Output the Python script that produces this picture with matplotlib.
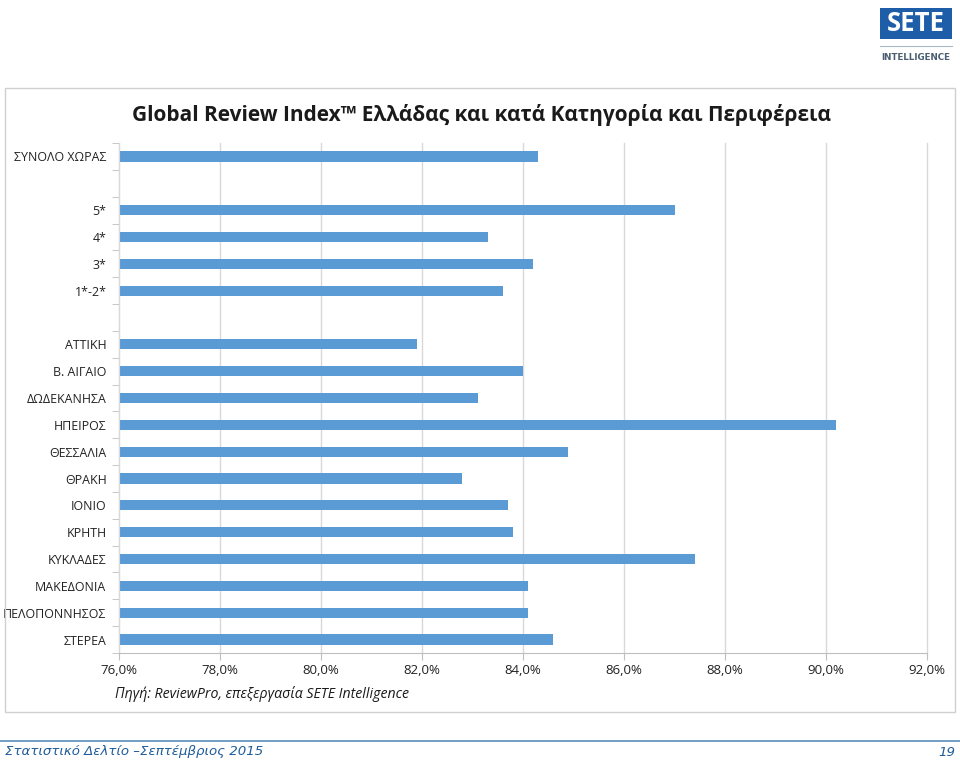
import matplotlib
matplotlib.use("Agg")
import matplotlib.pyplot as plt
from matplotlib.patches import Rectangle
from matplotlib.ticker import FuncFormatter, FixedLocator

plt.rcParams['font.family'] = ['Open Sans', 'DejaVu Sans']

# κατηγορίες (κενές γραμμές = διαχωριστικά)
labels = ['ΣΥΝΟΛΟ ΧΩΡΑΣ', '', '5*', '4*', '3*', '1*-2*', '',
          'ΑΤΤΙΚΗ', 'Β. ΑΙΓΑΙΟ', 'ΔΩΔΕΚΑΝΗΣΑ', 'ΗΠΕΙΡΟΣ', 'ΘΕΣΣΑΛΙΑ',
          'ΘΡΑΚΗ', 'ΙΟΝΙΟ', 'ΚΡΗΤΗ', 'ΚΥΚΛΑΔΕΣ', 'ΜΑΚΕΔΟΝΙΑ',
          'ΠΕΛΟΠΟΝΝΗΣΟΣ', 'ΣΤΕΡΕΑ']
values = [84.3, None, 87.0, 83.3, 84.2, 83.6, None,
          81.9, 84.0, 83.1, 90.2, 84.9,
          82.8, 83.7, 83.8, 87.4, 84.1,
          84.1, 84.6]
xticks = [76, 78, 80, 82, 84, 86, 88, 90, 92]

W, H = 960, 765
fig = plt.figure(figsize=(9.6, 7.65), dpi=100)

# πλαίσιο γραφήματος
fig.patches.append(Rectangle((5 / W, 1 - 712 / H), 950 / W, 624 / H,
                             transform=fig.transFigure, fill=False,
                             edgecolor='#D0D0D0', linewidth=1))

ax = fig.add_axes([119 / W, 1 - 653 / H, 808 / W, 510 / H])
ypos = list(range(len(labels)))
xs = [v - 76 if v is not None else 0 for v in values]
ax.barh(ypos, xs, left=76, height=0.38, color='#5B9BD5')
ax.set_xlim(76, 92)
ax.set_ylim(len(labels) - 0.5, -0.5)

ax.set_yticks(ypos)
ax.set_yticklabels(labels, fontsize=8.9, color='#222222')
ax.yaxis.set_minor_locator(FixedLocator([i + 0.5 for i in range(-1, len(labels))]))
ax.tick_params(axis='y', which='major', length=0, pad=9)
ax.tick_params(axis='y', which='minor', length=5, color='#BFBFBF')

ax.set_xticks(xticks)
ax.xaxis.set_major_formatter(FuncFormatter(lambda v, p: f'{v:.1f}%'.replace('.', ',')))
ax.tick_params(axis='x', length=5, color='#BFBFBF', labelsize=9.5, pad=3, labelcolor='#222222')
ax.grid(axis='x', color='#D9D9D9', linewidth=1)
for gl in ax.get_xgridlines():
    gl.set_clip_on(False)
ax.set_axisbelow(True)
for s in ['top', 'right']:
    ax.spines[s].set_visible(False)
ax.spines['left'].set_color('#D9D9D9')
ax.spines['bottom'].set_color('#BFBFBF')

fig.text(481 / W, 1 - 115 / H,
         'Global Review Index™ Ελλάδας και κατά Κατηγορία και Περιφέρεια',
         ha='center', va='center', fontsize=15, fontweight='bold', color='#1a1a1a')
fig.text(115 / W, 1 - 694 / H, 'Πηγή: ReviewPro, επεξεργασία SETE Intelligence',
         ha='left', va='center', fontsize=10.2, style='italic', color='#1a1a1a')

# υποσέλιδο
fig.add_artist(plt.Line2D([0, 1], [1 - 741 / H, 1 - 741 / H],
                          transform=fig.transFigure, color='#5B8DB8', linewidth=1.2))
fig.text(5 / W, 1 - 752 / H, 'Στατιστικό Δελτίο –Σεπτέμβριος 2015',
         ha='left', va='center', fontsize=9.6, style='italic', color='#1F5C99',
         family='DejaVu Sans')
fig.text(955 / W, 1 - 752 / H, '19', ha='right', va='center', fontsize=9.6,
         style='italic', color='#1F5C99', family='DejaVu Sans')

# λογότυπο
fig.patches.append(Rectangle((880 / W, 1 - 39 / H), 72 / W, 31 / H,
                             transform=fig.transFigure, facecolor='#1E5DA8',
                             edgecolor='none'))
fig.text(916 / W, 1 - 23.5 / H, 'SETE', ha='center', va='center', fontsize=18.5,
         fontweight='bold', color='white', family='Open Sans')
fig.add_artist(plt.Line2D([880 / W, 952 / W], [1 - 46 / H, 1 - 46 / H],
                          transform=fig.transFigure, color='#A9B8C8', linewidth=0.8))
fig.text(916 / W, 1 - 57 / H, 'INTELLIGENCE', ha='center', va='center', fontsize=6.3,
         fontweight='bold', color='#4A5E73', family='DejaVu Sans')

fig.savefig('out.png', dpi=100)
